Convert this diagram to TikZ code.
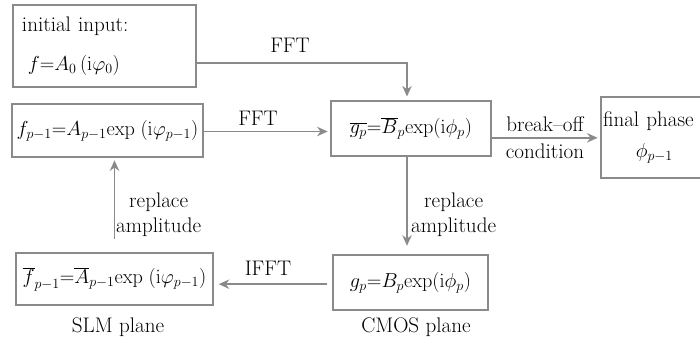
\documentclass[tikz,border=0pt]{standalone}
\usetikzlibrary{calc, arrows.meta}
\definecolor{linegray}{RGB}{138,138,138}
\tikzset{
    box/.style={draw=linegray, line width=1.7pt, inner sep=0pt, align=center,
        font=\fontsize{17}{20}\selectfont},
    flow/.style={draw=linegray, line width=1.7pt, -{Stealth[length=9pt, width=8pt]}},
    lbl/.style={font=\fontsize{18}{21}\selectfont, inner sep=0pt, align=center},
}

\begin{document}
\begin{tikzpicture}[x=0.03cm, y=-0.03cm]
    \clip (0, 0) rectangle (700, 342);

    % boxes
    \node[box, minimum width=5.49cm, minimum height=2.46cm, text width=4.95cm, align=left,
        font=\fontsize{18}{21}\selectfont]
        (init) at (104.5, 46) {initial input:\\[12pt]\hspace{5pt}$f{=}A_0\,(\mathrm{i}\varphi_0)$};
    \node[box, minimum width=5.73cm, minimum height=1.59cm]
        (fprev) at (107.5, 130.5) {$f_{p-1}{=}A_{p-1}\mathrm{exp}\;(\mathrm{i}\varphi_{p-1})$};
    \node[box, minimum width=4.8cm, minimum height=1.65cm]
        (gbar) at (411, 128.5) {$\overline{g_p}{=}\overline{B}_p\mathrm{exp}(\mathrm{i}\phi_p)$};
    \node[box, minimum width=3.57cm, minimum height=2.43cm, text width=3.45cm, align=left,
        font=\fontsize{18}{21}\selectfont]
        (final) at (660.5, 137.5) {final phase\\[6pt]\hspace{28pt}$\phi_{p-1}$};
    \node[box, minimum width=4.65cm, minimum height=1.65cm]
        (gp) at (410.5, 282.5) {$g_p{=}B_p\mathrm{exp}(\mathrm{i}\phi_p)$};
    \node[box, minimum width=5.91cm, minimum height=1.56cm]
        (fbar) at (114.5, 279) {$\overline{f}_{p-1}{=}\overline{A}_{p-1}\mathrm{exp}\;(\mathrm{i}\varphi_{p-1})$};

    % connectors
    \draw[flow, shorten >=3pt] ([yshift=-0.51cm]init.east) -| ([xshift=-0.12cm]gbar.north);
    \draw[flow, shorten >=2pt] ([yshift=-0.03cm]fprev.east) -- ([yshift=-0.03cm]fprev.east -| gbar.west);
    \draw[flow, shorten >=2pt] ([yshift=-0.28cm]gbar.east) -- ([yshift=-0.28cm]gbar.east -| final.west);
    \draw[flow, shorten >=7pt] ([xshift=-0.12cm]gbar.south) -- ([xshift=-0.12cm]gbar.south |- gp.north);
    \draw[flow, shorten <=4pt, shorten >=4pt] ([yshift=-0.05cm]gp.west) -- ([yshift=-0.05cm]gp.west -| fbar.east);
    \draw[flow, shorten <=11pt, shorten >=2pt] (fbar.north) -- (fbar.north |- fprev.south);

    % labels
    \node[lbl] (fft1) at (290, 45) {FFT};
    \node[lbl] (fft2) at (258, 118) {FFT};
    \node[lbl] (ifft) at (268, 268) {IFFT};
    \node[lbl] (brk) at (545, 124) {break--off};
    \node[lbl] (cond) at (545, 151) {condition};
    \node[lbl, anchor=west] (repup) at (116, 215) {replace\\amplitude};
    \node[lbl, anchor=west] (repdown) at (411, 215) {replace\\amplitude};
    \node[lbl] (slm) at (118, 327) {SLM plane};
    \node[lbl] (cmos) at (416, 327) {CMOS plane};
\end{tikzpicture}
\end{document}
